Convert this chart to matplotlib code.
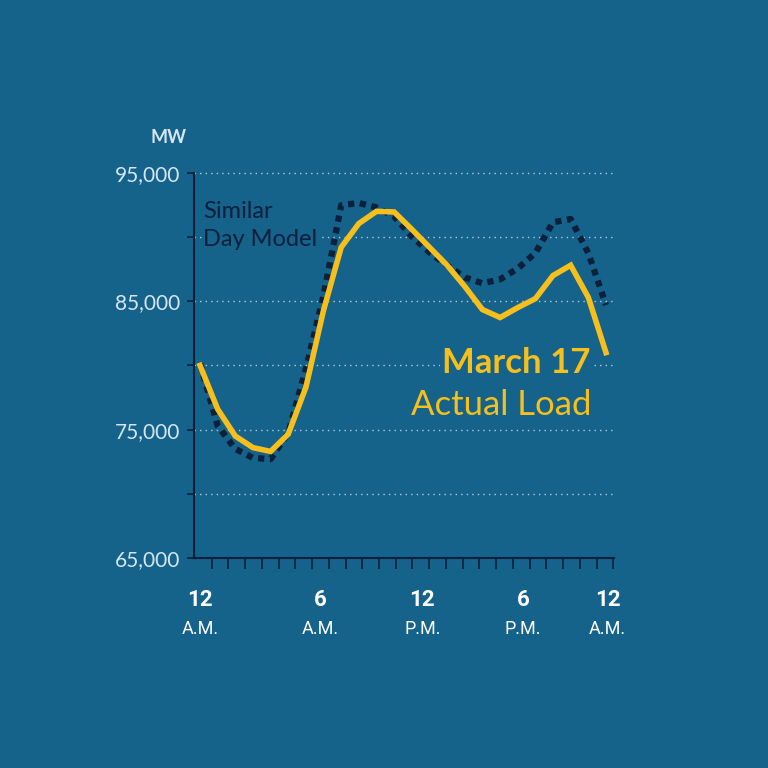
import numpy as np
import matplotlib
matplotlib.use("Agg")
import matplotlib.pyplot as plt

# hourly load, MW
hours = np.arange(24)
actual_load = [80000, 76600, 74500, 73600, 73300, 74650, 78300, 84300,
               89200, 91050, 92000, 91950, 90600, 89200, 87800, 86150,
               84350, 83730, 84500, 85200, 87000, 87800, 85300, 81000]
similar_day = [80150, 75300, 73500, 72800, 72700, 74750, 79750, 85450,
               92480, 92650, 92300, 91600, 90050, 88800, 87800, 86850,
               86400, 86700, 87550, 88750, 91150, 91400, 88750, 84700]
y_ticks = [65000, 75000, 85000, 95000]
x_label_top = ["12", "6", "12", "6", "12"]
x_label_bottom = ["A.M.", "A.M.", "P.M.", "P.M.", "A.M."]

bg = "#15628b"
yellow = "#f6bf1c"
navy = "#0c1f3b"
pale = "#d6e6f0"

fig = plt.figure(figsize=(7.68, 7.68), dpi=100, facecolor=bg)
ax = fig.add_axes([0.2526, 0.2734, 0.547, 0.5016])
ax.set_facecolor(bg)

# dotted grid every 5,000 MW
for g in range(70000, 95001, 5000):
    ax.plot([-0.34, 23.35], [g, g], color=pale, lw=1.0, ls=(0, (1, 3)),
            alpha=0.8, zorder=1, clip_on=False)

ax.plot(hours, similar_day, color=navy, lw=4.5, ls=(0, (1.0, 0.9)),
        solid_capstyle="butt", dash_capstyle="butt", zorder=2)
ax.plot(hours, actual_load, color=yellow, lw=4, solid_joinstyle="miter",
        zorder=3)

ax.set_xlim(-0.34, 23.46)
ax.set_ylim(65000, 95000)

for s in ["top", "right"]:
    ax.spines[s].set_visible(False)
for s in ["left", "bottom"]:
    ax.spines[s].set_color(navy)
    ax.spines[s].set_linewidth(1.5)

ax.set_yticks(range(65000, 95001, 5000))
ax.set_yticklabels(["{:,}".format(v) if v in y_ticks else "" for v in range(65000, 95001, 5000)],
                   fontsize=15, color=pale, family="Lato")
ax.tick_params(axis="y", length=5, width=1.2, color=navy, pad=5)

ax.set_xticks(0.66 + np.arange(25) * 0.948)
ax.set_xticklabels([])
ax.tick_params(axis="x", length=8, width=1.2, color=navy, direction="out")

label_x = [0, 6.8, 12.6, 18.3, 23.1]
for lx, top, bot in zip(label_x, x_label_top, x_label_bottom):
    ax.text(lx, -0.11, top, transform=ax.get_xaxis_transform(), ha="center",
            va="center", fontsize=16, fontweight="bold", color="white",
            family="Roboto")
    ax.text(lx, -0.185, bot, transform=ax.get_xaxis_transform(), ha="center",
            va="center", fontsize=13, color="white", family="Roboto")

fig.text(0.219, 0.821, "MW", ha="center", va="center", fontsize=13,
         fontweight="bold", color=pale, family="Lato")

ax.text(0.17, 90900, "Similar\nDay Model", ha="left", va="center", fontsize=17,
        color=navy, family="Lato", linespacing=1.4, zorder=4,
        bbox=dict(facecolor=bg, edgecolor="none", pad=1))
ax.text(22.1, 80150, "March 17", ha="right", va="center", fontsize=25,
        fontweight="bold", color=yellow, family="Lato", zorder=4,
        bbox=dict(facecolor=bg, edgecolor="none", pad=1))
ax.text(22.2, 76950, "Actual Load", ha="right", va="center", fontsize=25,
        color=yellow, family="Lato", zorder=4)

fig.savefig("out.png", dpi=100, facecolor=bg)
